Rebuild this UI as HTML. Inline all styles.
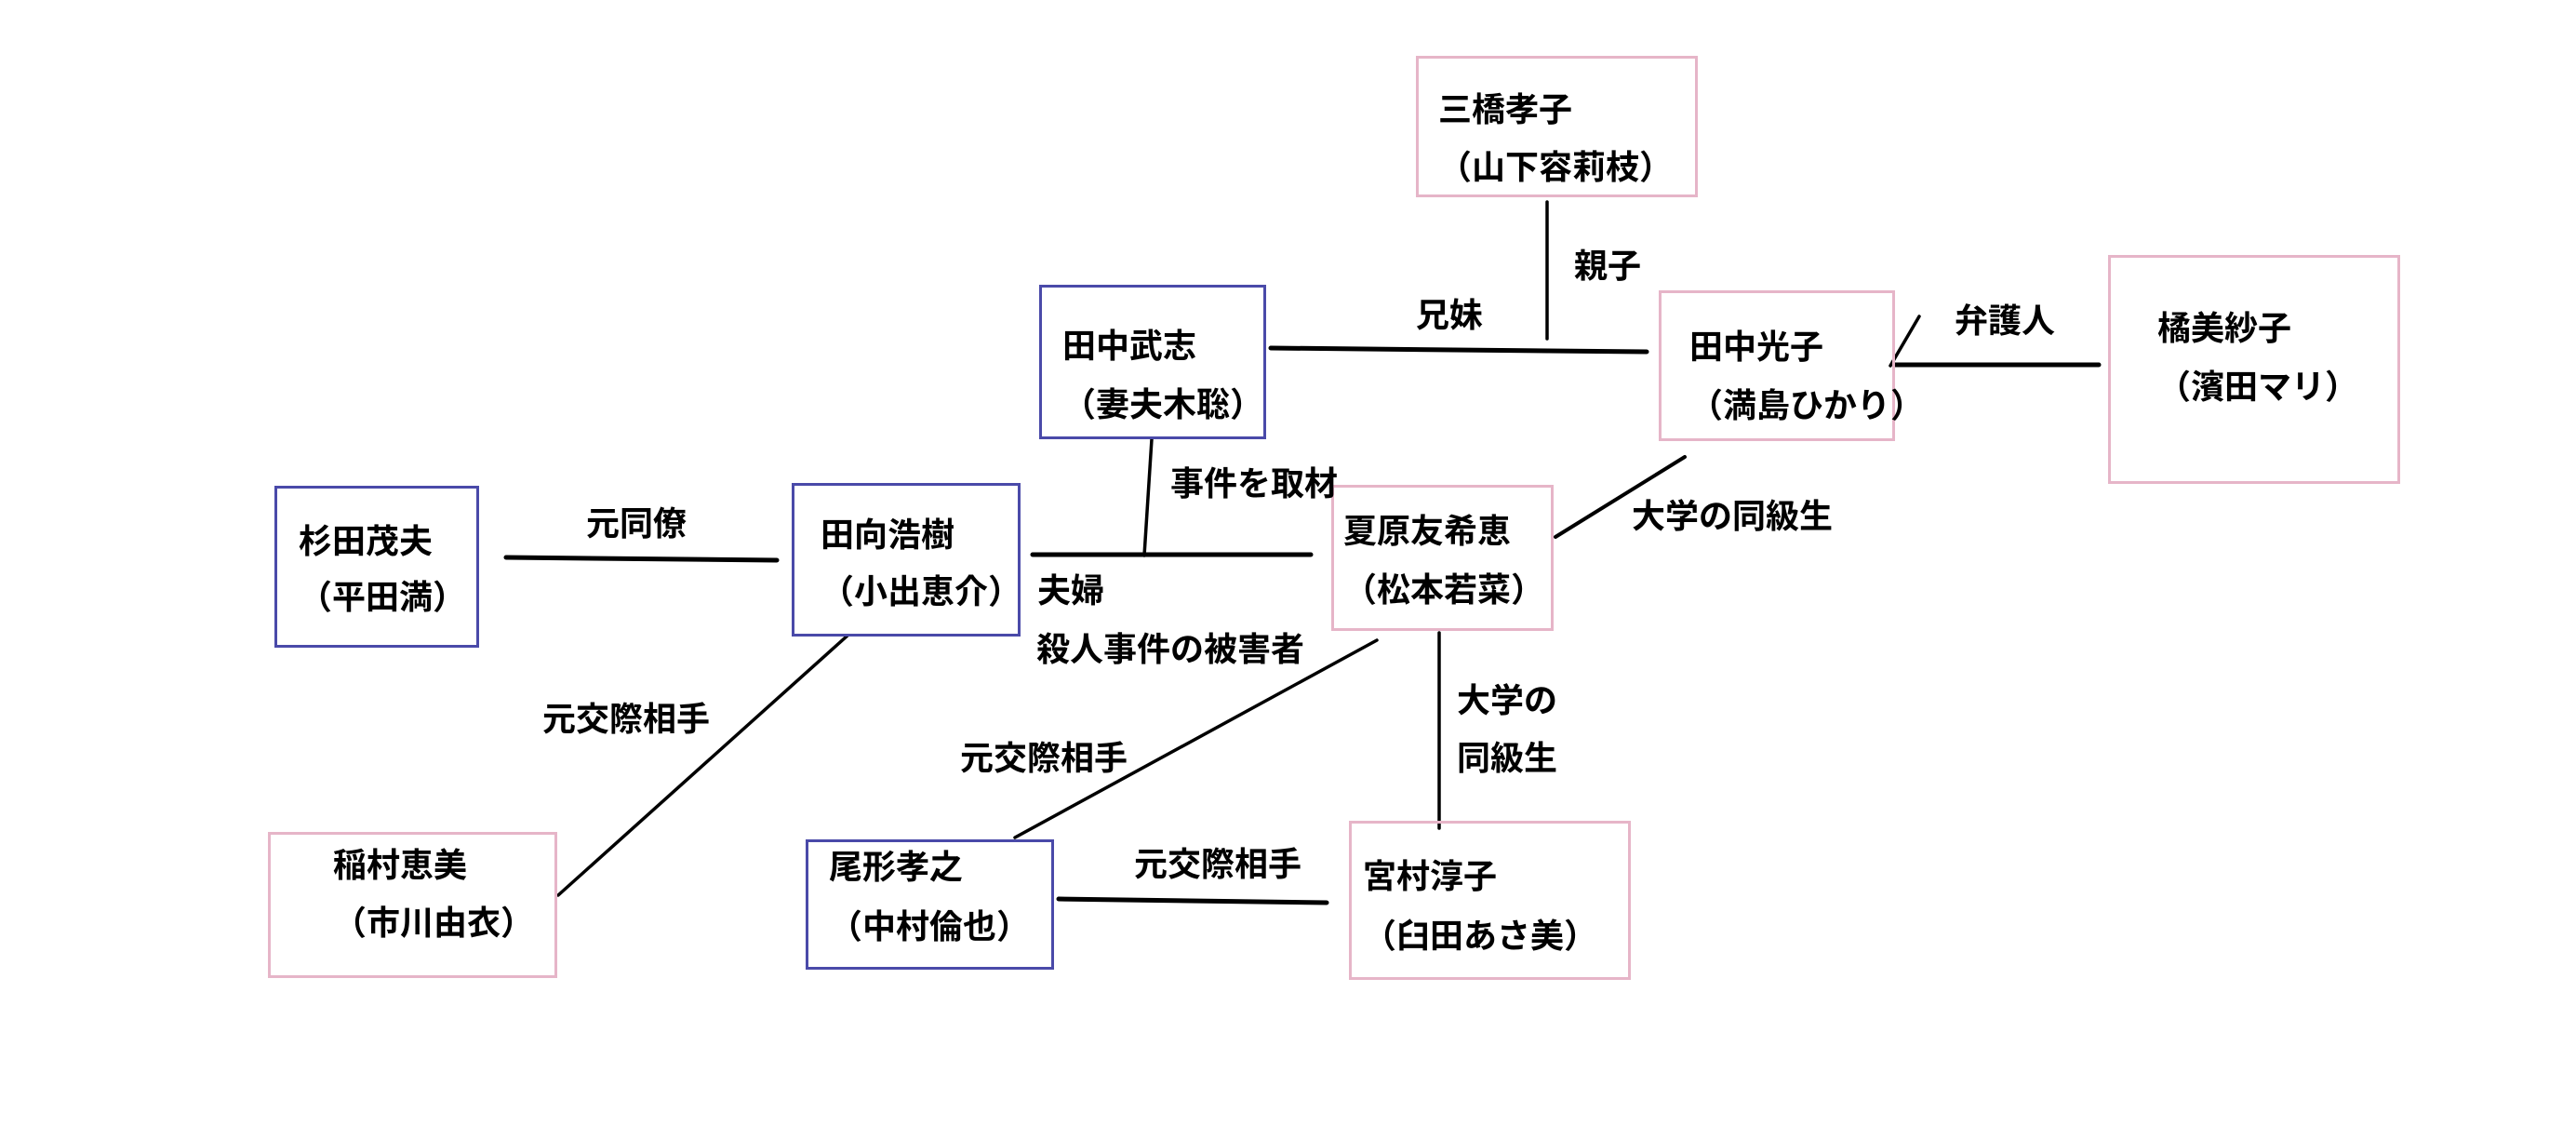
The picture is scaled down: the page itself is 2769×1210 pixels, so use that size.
<!DOCTYPE html>
<html><head><meta charset="utf-8">
<style>
html,body{margin:0;padding:0;background:#fff;}
#c{position:relative;width:2769px;height:1210px;overflow:hidden;background:#fff;}
.b{position:absolute;box-sizing:border-box;border:3px solid;}
.bl{border-color:#4a4aa9;}
.pk{border-color:#e6b5c8;}
.t{position:absolute;white-space:nowrap;font-family:"Liberation Sans","Noto Sans CJK JP",sans-serif;font-size:36px;line-height:36px;font-weight:bold;color:#000;}
svg{position:absolute;left:0;top:0;}
</style></head><body>
<div id="c">
<svg width="2769" height="1210" viewBox="0 0 2769 1210">
<g stroke="#000" stroke-linecap="round" fill="none">
<line x1="544" y1="599" x2="835" y2="602" stroke-width="5"/>
<line x1="1238" y1="472" x2="1230" y2="597" stroke-width="3.5"/>
<line x1="1110" y1="596" x2="1409" y2="596" stroke-width="5"/>
<line x1="1366" y1="374" x2="1770" y2="378" stroke-width="5"/>
<line x1="1663" y1="217" x2="1663" y2="364" stroke-width="3.5"/>
<line x1="2063" y1="340" x2="2032" y2="393" stroke-width="3.5"/>
<line x1="2037" y1="392" x2="2256" y2="392" stroke-width="5"/>
<line x1="1811" y1="491" x2="1672" y2="577" stroke-width="4"/>
<line x1="911" y1="683" x2="600" y2="962" stroke-width="3.5"/>
<line x1="1091" y1="900" x2="1480" y2="688" stroke-width="3.5"/>
<line x1="1138" y1="966" x2="1426" y2="970" stroke-width="5"/>
<line x1="1547" y1="680" x2="1547" y2="890" stroke-width="3.5"/>
</g>
</svg>

<div class="b pk" style="left:1522px;top:60px;width:303px;height:152px;"></div>
<div class="b bl" style="left:1117px;top:306px;width:244px;height:166px;"></div>
<div class="b pk" style="left:1783px;top:312px;width:254px;height:162px;"></div>
<div class="b pk" style="left:2266px;top:274px;width:314px;height:246px;"></div>
<div class="b bl" style="left:295px;top:522px;width:220px;height:174px;"></div>
<div class="b bl" style="left:851px;top:519px;width:246px;height:165px;"></div>
<div class="b pk" style="left:1431px;top:521px;width:239px;height:157px;"></div>
<div class="b pk" style="left:288px;top:894px;width:311px;height:157px;"></div>
<div class="b bl" style="left:866px;top:902px;width:267px;height:140px;"></div>
<div class="b pk" style="left:1450px;top:882px;width:303px;height:171px;"></div>

<div class="t" style="left:1546px;top:100px;">三橋孝子</div>
<div class="t" style="left:1546px;top:162px;">（山下容莉枝）</div>
<div class="t" style="left:1142px;top:354px;">田中武志</div>
<div class="t" style="left:1142px;top:417px;">（妻夫木聡）</div>
<div class="t" style="left:1816px;top:355px;">田中光子</div>
<div class="t" style="left:1816px;top:418px;">（満島ひかり）</div>
<div class="t" style="left:2319px;top:335px;">橘美紗子</div>
<div class="t" style="left:2319px;top:398px;">（濱田マリ）</div>
<div class="t" style="left:321px;top:564px;">杉田茂夫</div>
<div class="t" style="left:321px;top:624px;">（平田満）</div>
<div class="t" style="left:882px;top:557px;">田向浩樹</div>
<div class="t" style="left:882px;top:618px;">（小出恵介）</div>
<div class="t" style="left:1444px;top:553px;">夏原友希恵</div>
<div class="t" style="left:1444px;top:616px;">（松本若菜）</div>
<div class="t" style="left:358px;top:912px;">稲村恵美</div>
<div class="t" style="left:358px;top:974px;">（市川由衣）</div>
<div class="t" style="left:891px;top:914px;">尾形孝之</div>
<div class="t" style="left:891px;top:978px;">（中村倫也）</div>
<div class="t" style="left:1465px;top:924px;">宮村淳子</div>
<div class="t" style="left:1465px;top:988px;">（臼田あさ美）</div>

<div class="t" style="left:1692px;top:268px;">親子</div>
<div class="t" style="left:1522px;top:321px;">兄妹</div>
<div class="t" style="left:2101px;top:327px;">弁護人</div>
<div class="t" style="left:630px;top:545px;">元同僚</div>
<div class="t" style="left:1258px;top:502px;">事件を取材</div>
<div class="t" style="left:1754px;top:537px;">大学の同級生</div>
<div class="t" style="left:1115px;top:617px;">夫婦</div>
<div class="t" style="left:1114px;top:680px;">殺人事件の被害者</div>
<div class="t" style="left:583px;top:755px;">元交際相手</div>
<div class="t" style="left:1032px;top:797px;">元交際相手</div>
<div class="t" style="left:1219px;top:911px;">元交際相手</div>
<div class="t" style="left:1566px;top:735px;">大学の</div>
<div class="t" style="left:1566px;top:797px;">同級生</div>
</div>
</body></html>
